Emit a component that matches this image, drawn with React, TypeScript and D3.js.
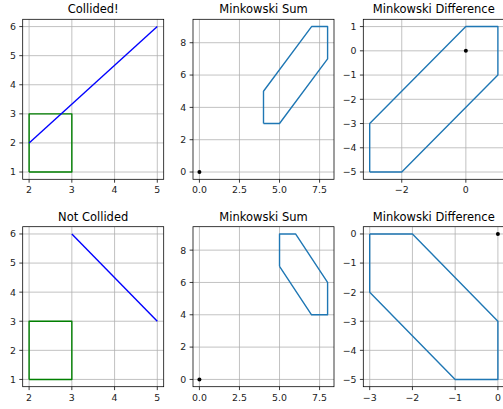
import React from 'react';
import * as d3 from 'd3';

// shapes in data coordinates
const rectA = [[2, 1], [3, 1], [3, 3], [2, 3], [2, 1]];
const lineHit = [[2, 2], [5, 6]];
const lineMiss = [[3, 6], [5, 3]];
const sumHit = [[4, 3], [5, 3], [8, 7], [8, 9], [7, 9], [4, 5], [4, 3]];
const diffHit = [[-3, -5], [-2, -5], [1, -1], [1, 1], [0, 1], [-3, -3], [-3, -5]];
const sumMiss = [[5, 7], [5, 9], [6, 9], [8, 6], [8, 4], [7, 4], [5, 7]];
const diffMiss = [[-3, 0], [-2, 0], [0, -3], [0, -5], [-1, -5], [-3, -2], [-3, 0]];
const origin = [[0, 0]];

const ticksGeom = { x: [2, 3, 4, 5], y: [1, 2, 3, 4, 5, 6] };
const ticksSum = { x: [0, 2.5, 5, 7.5], y: [0, 2, 4, 6, 8] };
const ticksDiffHit = { x: [-2, 0], y: [1, 0, -1, -2, -3, -4, -5] };
const ticksDiffMiss = { x: [-3, -2, -1, 0], y: [0, -1, -2, -3, -4, -5] };

type Pt = number[];
type Series = { pts: Pt[]; color: string; width: number };

const FONT = 'DejaVu Sans, sans-serif';
const W = 141;
const H = 160;
const TICK_FS = 9.4;

const fmtTick = (v: number, decimals: number) =>
  v.toFixed(decimals).replace('-', '\u2212');

function Panel(props: {
  left: number;
  top: number;
  title: string;
  series: Series[];
  dots?: Pt[];
  ticks: { x: number[]; y: number[] };
  xDec?: number;
}) {
  const { left, top, title, series, dots = [], ticks, xDec = 0 } = props;
  const all = series.flatMap((s) => s.pts).concat(dots);
  const xe = d3.extent(all, (d) => d[0]) as [number, number];
  const ye = d3.extent(all, (d) => d[1]) as [number, number];
  const xm = (xe[1] - xe[0]) * 0.05;
  const ym = (ye[1] - ye[0]) * 0.05;
  const x = d3.scaleLinear().domain([xe[0] - xm, xe[1] + xm]).range([0, W]);
  const y = d3.scaleLinear().domain([ye[0] - ym, ye[1] + ym]).range([H, 0]);
  const line = d3
    .line<Pt>()
    .x((d) => x(d[0]))
    .y((d) => y(d[1]));
  const clipId = `clip-${left}-${top}`;

  return (
    <g transform={`translate(${left},${top})`}>
      <defs>
        <clipPath id={clipId}>
          <rect x={0} y={0} width={W} height={H} />
        </clipPath>
      </defs>
      <rect x={0} y={0} width={W} height={H} fill="#fff" />
      <g clipPath={`url(#${clipId})`}>
        {ticks.x.map((t) => (
          <line key={'gx' + t} x1={x(t)} x2={x(t)} y1={0} y2={H} stroke="#b0b0b0" strokeWidth={0.77} />
        ))}
        {ticks.y.map((t) => (
          <line key={'gy' + t} x1={0} x2={W} y1={y(t)} y2={y(t)} stroke="#b0b0b0" strokeWidth={0.77} />
        ))}
        {series.map((s, i) => (
          <path key={i} d={line(s.pts) || ''} fill="none" stroke={s.color} strokeWidth={s.width} strokeLinejoin="round" />
        ))}
        {dots.map((d, i) => (
          <circle key={'d' + i} cx={x(d[0])} cy={y(d[1])} r={2} fill="#000" />
        ))}
      </g>
      <rect x={0} y={0} width={W} height={H} fill="none" stroke="#000" strokeWidth={0.77} />
      {ticks.x.map((t) => (
        <g key={'tx' + t}>
          <line x1={x(t)} x2={x(t)} y1={H} y2={H + 3.4} stroke="#000" strokeWidth={0.77} />
          <text x={x(t)} y={H + 14} textAnchor="middle" fontFamily={FONT} fontSize={TICK_FS} fill="#222">
            {fmtTick(t, xDec)}
          </text>
        </g>
      ))}
      {ticks.y.map((t) => (
        <g key={'ty' + t}>
          <line x1={-3.4} x2={0} y1={y(t)} y2={y(t)} stroke="#000" strokeWidth={0.77} />
          <text x={-6.8} y={y(t) + 3.4} textAnchor="end" fontFamily={FONT} fontSize={TICK_FS} fill="#222">
            {fmtTick(t, 0)}
          </text>
        </g>
      ))}
      <text x={W / 2} y={-6} textAnchor="middle" fontFamily={FONT} fontSize={11.5} fill="#000">
        {title}
      </text>
    </g>
  );
}

export default function App() {
  const lefts = [22.7, 193, 363.3];
  const tops = [19.3, 226.7];
  const blue = '#1f77b4';
  return (
    <svg width={503} height={409} style={{ position: 'absolute', left: 0, top: 0, background: '#fff' }}>
      <rect width={503} height={409} fill="#fff" />
      <Panel
        left={lefts[0]}
        top={tops[0]}
        title="Collided!"
        series={[
          { pts: rectA, color: '#008000', width: 1.4 },
          { pts: lineHit, color: '#0000ff', width: 1.4 },
        ]}
        ticks={ticksGeom}
      />
      <Panel
        left={lefts[1]}
        top={tops[0]}
        title="Minkowski Sum"
        series={[{ pts: sumHit, color: blue, width: 1.4 }]}
        dots={origin}
        ticks={ticksSum}
        xDec={1}
      />
      <Panel
        left={lefts[2]}
        top={tops[0]}
        title="Minkowski Difference"
        series={[{ pts: diffHit, color: blue, width: 1.4 }]}
        dots={origin}
        ticks={ticksDiffHit}
      />
      <Panel
        left={lefts[0]}
        top={tops[1]}
        title="Not Collided"
        series={[
          { pts: rectA, color: '#008000', width: 1.4 },
          { pts: lineMiss, color: '#0000ff', width: 1.4 },
        ]}
        ticks={ticksGeom}
      />
      <Panel
        left={lefts[1]}
        top={tops[1]}
        title="Minkowski Sum"
        series={[{ pts: sumMiss, color: blue, width: 1.4 }]}
        dots={origin}
        ticks={ticksSum}
        xDec={1}
      />
      <Panel
        left={lefts[2]}
        top={tops[1]}
        title="Minkowski Difference"
        series={[{ pts: diffMiss, color: blue, width: 1.4 }]}
        dots={origin}
        ticks={ticksDiffMiss}
      />
    </svg>
  );
}
